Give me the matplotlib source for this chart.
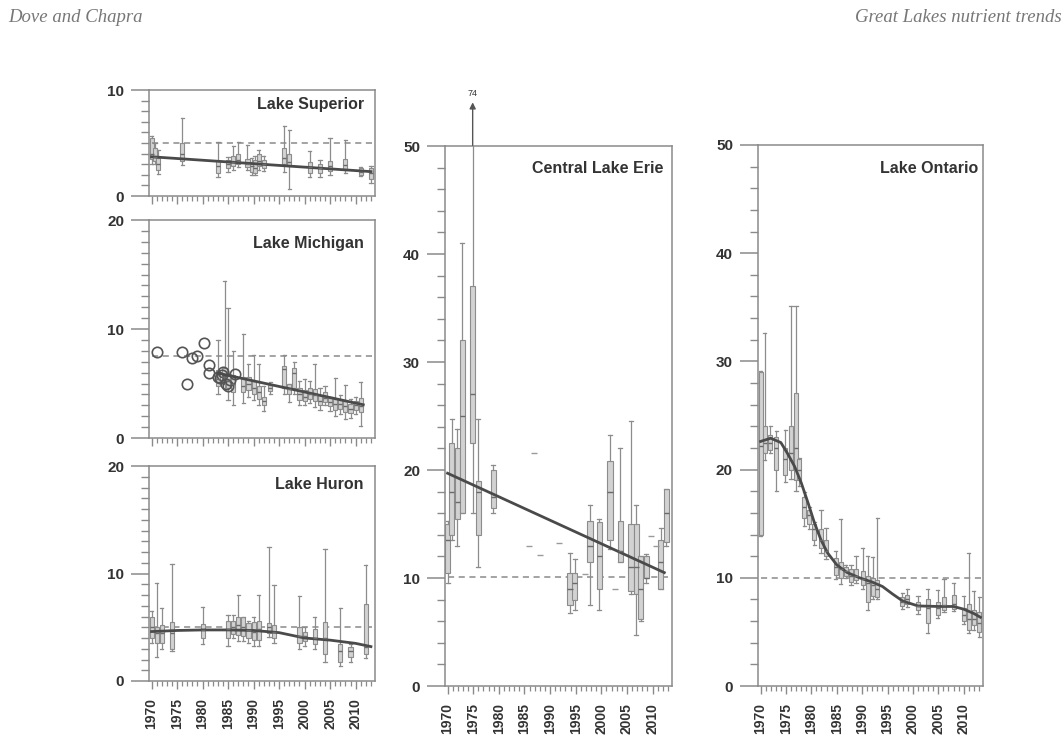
import matplotlib.pyplot as plt
import numpy as np
from matplotlib.ticker import MultipleLocator, NullFormatter

plt.rcParams['font.family'] = ['Liberation Sans', 'DejaVu Sans']

# Lake Superior
sup_year = [1970.0, 1970.7, 1971.3, 1976, 1983, 1985, 1986, 1987, 1988.8, 1989.6, 1990.3,
            1991, 1992, 1996, 1997, 2001, 2003, 2005, 2008, 2011, 2013]
sup_lo = [3.0, 3.0, 2.1, 2.9, 1.8, 2.3, 2.5, 2.7, 2.5, 2.0, 2.0, 2.5, 2.4, 2.3, 0.7, 1.8, 1.8, 2.0, 2.2, 1.9, 1.2]
sup_q1 = [3.5, 3.3, 2.5, 3.3, 2.2, 2.6, 2.8, 3.0, 2.7, 2.3, 2.2, 2.8, 2.6, 3.0, 2.8, 2.2, 2.2, 2.4, 2.5, 2.0, 1.6]
sup_med = [4.0, 3.7, 3.0, 4.0, 2.8, 3.0, 3.2, 3.4, 3.0, 2.8, 2.6, 3.3, 3.0, 3.6, 3.2, 2.7, 2.6, 2.8, 2.9, 2.3, 2.2]
sup_q3 = [5.5, 4.5, 3.6, 5.0, 3.3, 3.4, 3.8, 4.0, 3.5, 3.2, 3.4, 4.0, 3.4, 4.5, 4.0, 3.2, 3.0, 3.3, 3.5, 2.6, 2.6]
sup_hi = [5.7, 5.0, 4.3, 7.4, 5.1, 3.7, 4.7, 5.1, 4.8, 3.6, 3.8, 4.3, 3.8, 6.6, 6.2, 4.2, 3.4, 5.5, 5.3, 2.7, 2.8]
sup_trend_year = [1970, 2013]
sup_trend = [3.7, 2.3]
sup_target = 5.0

# Lake Michigan
mich_year = [1983, 1984.3, 1985, 1986, 1988, 1989, 1990, 1991, 1992, 1993.3, 1996, 1997, 1998,
             1999, 2000, 2001, 2002, 2003, 2004, 2005, 2006, 2007, 2008, 2009, 2010, 2011]
mich_lo = [4.0, 4.5, 3.5, 3.0, 3.2, 3.8, 3.5, 3.0, 2.5, 4.0, 4.0, 3.3, 4.0, 3.0, 3.0, 3.2, 2.8,
           2.6, 3.0, 2.5, 2.0, 2.2, 1.7, 1.8, 2.2, 1.1]
mich_q1 = [4.8, 5.0, 4.6, 4.2, 4.2, 4.4, 4.0, 3.6, 3.0, 4.3, 4.6, 4.0, 4.6, 3.5, 3.4, 3.6, 3.4,
           3.0, 3.3, 2.9, 2.6, 2.7, 2.4, 2.3, 2.6, 2.4]
mich_med = [5.4, 5.6, 5.2, 5.0, 4.8, 5.0, 4.6, 4.2, 3.4, 4.6, 6.3, 4.5, 6.0, 4.0, 3.8, 4.0, 3.9,
            3.4, 3.7, 3.3, 3.1, 3.1, 2.9, 2.7, 3.0, 2.9]
mich_q3 = [6.2, 6.4, 6.0, 5.8, 5.6, 5.6, 5.2, 4.8, 3.8, 4.9, 6.6, 5.0, 6.4, 4.6, 4.4, 4.6, 4.5,
           3.9, 4.2, 3.7, 3.6, 3.5, 3.4, 3.1, 3.4, 3.7]
mich_hi = [9.0, 14.4, 11.9, 8.0, 9.5, 6.8, 7.6, 6.8, 4.8, 5.1, 7.6, 5.0, 7.0, 5.2, 5.4, 5.2, 6.8,
           4.6, 4.8, 3.8, 5.5, 3.9, 4.9, 3.6, 3.8, 5.1]
mich_old_year = [1971, 1976, 1977, 1978, 1979, 1980.2, 1981.2, 1981.2, 1983, 1983.5, 1984,
                 1984.5, 1985, 1985.4, 1986.3, 1983.8]
mich_old_val = [7.9, 7.85, 5.0, 7.3, 7.5, 8.7, 6.7, 6.0, 5.6, 5.5, 6.1, 5.0, 4.8, 5.3, 5.9, 5.8]
mich_trend_year = [1983, 2011.5]
mich_trend = [5.95, 3.05]
mich_target = 7.5

# Lake Huron
huron_year = [1970, 1971, 1972, 1974, 1980, 1985, 1986, 1987, 1988, 1989, 1990, 1991, 1993,
              1994, 1999, 2000, 2002, 2004, 2007, 2009, 2012]
huron_lo = [3.5, 2.2, 3.0, 2.8, 3.4, 3.3, 4.0, 3.7, 3.7, 3.5, 3.3, 3.3, 4.1, 3.5, 3.0, 3.3, 3.0, 1.8, 1.4, 1.8, 2.1]
huron_q1 = [4.0, 3.5, 3.5, 3.0, 4.0, 4.0, 4.4, 4.3, 4.2, 4.0, 3.8, 3.8, 4.5, 4.0, 3.5, 3.7, 3.4, 2.5, 1.8, 2.2, 2.5]
huron_med = [5.0, 4.5, 4.5, 4.5, 4.7, 4.8, 5.0, 5.2, 5.0, 4.7, 4.6, 4.8, 5.0, 4.6, 4.2, 4.2, 4.0, 4.0, 2.8, 2.8, 3.2]
huron_q3 = [6.0, 5.0, 5.2, 5.5, 5.3, 5.6, 5.6, 6.0, 6.0, 5.4, 5.5, 5.6, 5.4, 5.2, 5.0, 4.6, 4.8, 5.5, 3.4, 3.2, 7.2]
huron_hi = [6.5, 9.1, 6.8, 10.9, 6.9, 6.1, 6.1, 8.0, 6.0, 5.6, 6.0, 8.0, 12.5, 8.9, 7.9, 5.0, 6.0, 12.3, 6.8, 3.4, 10.8]
huron_trend_year = [1970, 1975, 1980, 1985, 1990, 1995, 2000, 2005, 2010, 2013]
huron_trend = [4.6, 4.7, 4.75, 4.75, 4.7, 4.5, 4.0, 3.8, 3.5, 3.2]
huron_target = 5.0

# Central Lake Erie
erie_year = [1970, 1970.8, 1971.9, 1972.9, 1974.9, 1976, 1978.9, 1993.9, 1994.8, 1997.8, 1999.6,
             2001.7, 2003.7, 2005.8, 2006.8, 2007.7, 2008.8, 2011.6, 2012.7]
erie_lo = [9.5, 13.5, 13.0, 16.0, 16.0, 11.0, 16.0, 6.8, 7.0, 7.5, 7.0, 12.7, 11.5, 8.5, 4.7, 6.0, 9.5, 9.0, 13.0]
erie_q1 = [10.5, 14.0, 15.5, 16.0, 22.5, 14.0, 16.5, 7.5, 8.0, 11.5, 9.0, 13.5, 11.5, 8.8, 8.5, 6.2, 10.0, 9.0, 13.3]
erie_med = [13.5, 18.0, 17.0, 25.0, 27.0, 18.0, 17.5, 9.0, 9.5, 13.0, 12.0, 18.0, 12.5, 11.0, 11.0, 9.0, 10.0, 11.5, 16.0]
erie_q3 = [15.0, 22.5, 22.0, 32.0, 37.0, 19.0, 20.0, 10.5, 10.5, 15.3, 15.2, 20.8, 15.3, 15.0, 15.0, 12.0, 12.0, 13.5, 18.2]
erie_hi = [15.3, 24.7, 23.8, 41.0, 74.0, 24.7, 20.5, 12.3, 11.8, 16.8, 15.5, 23.2, 22.0, 24.5, 16.8, 12.0, 12.2, 14.6, 18.2]
erie_pt_year = [1985.9, 1986.9, 1988, 1991.7, 1996.9, 2002.6, 2009.7, 2010.7]
erie_pt_val = [13.0, 21.6, 12.1, 13.2, 10.4, 9.0, 13.9, 13.0]
erie_trend_year = [1970, 2012.3]
erie_trend = [19.7, 10.5]
erie_target = 10.1

# Lake Ontario
ont_year = [1970, 1970.8, 1971.9, 1973.1, 1974.9, 1976, 1977, 1977.6, 1978.6, 1979.6, 1980.6,
            1981.9, 1982.9, 1984.8, 1985.8, 1986.8, 1987.8, 1988.8, 1990.1, 1991.1, 1992.1, 1993,
            1997.9, 1998.9, 2001, 2002.9, 2004.9, 2006.1, 2008, 2010, 2011, 2012, 2013.1]
ont_lo = [13.9, 20.9, 21.5, 18.0, 18.9, 19.1, 18.0, 18.5, 14.8, 14.5, 13.0, 12.3, 11.7, 9.9, 9.4,
          10.0, 9.3, 9.5, 9.0, 7.0, 8.0, 8.0, 7.1, 7.3, 6.7, 4.9, 6.3, 6.8, 6.9, 5.7, 4.9, 5.2, 4.5]
ont_q1 = [14.0, 21.5, 21.8, 20.0, 19.5, 20.0, 19.0, 19.0, 15.5, 15.0, 13.5, 12.8, 12.0, 10.3, 10.0,
          10.2, 9.6, 9.8, 9.3, 7.8, 8.3, 8.2, 7.4, 7.6, 7.0, 5.8, 6.6, 7.0, 7.1, 6.0, 5.2, 5.6, 5.0]
ont_med = [22.2, 22.5, 22.5, 22.0, 21.0, 21.5, 22.0, 20.0, 16.5, 15.8, 14.5, 13.5, 12.5, 11.0, 10.8,
           10.6, 10.2, 10.2, 9.9, 9.5, 9.3, 9.0, 7.8, 8.0, 7.4, 7.2, 7.2, 7.5, 7.6, 6.6, 6.2, 6.2, 5.8]
ont_q3 = [29.0, 24.0, 23.2, 23.0, 22.0, 24.0, 27.1, 21.0, 17.5, 16.3, 15.0, 14.5, 13.5, 11.8, 11.5,
          11.0, 10.8, 10.8, 10.6, 10.2, 10.0, 9.8, 8.2, 8.4, 7.8, 8.0, 7.8, 8.2, 8.4, 7.2, 7.6, 7.0, 6.8]
ont_hi = [29.1, 32.6, 24.0, 23.6, 23.7, 35.1, 35.1, 21.1, 17.9, 16.5, 15.2, 16.3, 14.6, 12.5, 15.4,
          11.2, 11.2, 12.0, 12.8, 12.0, 11.9, 15.5, 8.6, 9.0, 8.3, 9.0, 8.9, 9.85, 9.5, 8.3, 12.3, 8.8, 8.2]
ont_curve_year = [1970, 1972, 1974, 1975.3, 1976.7, 1978, 1979.3, 1980.6, 1981.9, 1983.2, 1985,
                  1987, 1989.5, 1992, 1994, 1996, 1998, 2001, 2005, 2008, 2010, 2012, 2013.3]
ont_curve = [22.6, 22.9, 22.5, 21.5, 20.3, 18.8, 17.0, 15.1, 13.5, 12.3, 11.2, 10.5, 10.0, 9.6,
             9.2, 8.5, 7.85, 7.4, 7.35, 7.35, 7.1, 6.7, 6.35]
ont_target = 10.0

year_ticks = np.arange(1970, 2011, 5)

ink = '#333333'
frame = '#8a8a8a'

W, H = 1064, 743
fig = plt.figure(figsize=(W / 100, H / 100), dpi=100)


def px_axes(left, top, right, bottom):
    return fig.add_axes([left / W, 1 - bottom / H, (right - left) / W, (bottom - top) / H])


def draw_boxes(ax, year, lo, q1, med, q3, hi, width=0.8):
    stats = [dict(med=m, q1=a, q3=b, whislo=l, whishi=h, fliers=[])
             for l, a, m, b, h in zip(lo, q1, med, q3, hi)]
    ax.bxp(stats, positions=year, widths=width, capwidths=width * 0.8, patch_artist=True,
           showfliers=False, manage_ticks=False,
           boxprops=dict(facecolor='#d2d2d2', edgecolor='#8c8c8c', linewidth=0.8),
           whiskerprops=dict(color='#8c8c8c', linewidth=0.9),
           capprops=dict(color='#8c8c8c', linewidth=0.9),
           medianprops=dict(color='#6a6a6a', linewidth=1.0))


def style(ax, ymax, ymajor, yminor, name, tx, ty, labels=True):
    ax.set_xlim(1969.5, 2013.8)
    ax.set_ylim(0, ymax)
    ax.yaxis.set_major_locator(MultipleLocator(ymajor))
    ax.yaxis.set_minor_locator(MultipleLocator(yminor))
    ax.set_xticks(year_ticks)
    ax.xaxis.set_minor_locator(MultipleLocator(1))
    for s in ax.spines.values():
        s.set_color(frame)
        s.set_linewidth(1.1)
    ax.tick_params(axis='y', which='major', direction='out', length=13, width=1.1,
                   color=frame, pad=5, labelsize=11, labelcolor=ink)
    ax.tick_params(axis='y', which='minor', direction='out', length=5.5, width=1.0, color=frame)
    ax.tick_params(axis='x', which='major', direction='out', length=5.5, width=1.0,
                   color=frame, pad=7, labelsize=10, labelcolor=ink, labelrotation=90)
    ax.tick_params(axis='x', which='minor', direction='out', length=3.5, width=0.9, color=frame)
    for lab in ax.get_yticklabels():
        lab.set_fontweight('bold')
    if labels:
        ax.set_xticklabels([str(y) for y in year_ticks], fontweight='bold')
    else:
        ax.xaxis.set_major_formatter(NullFormatter())
    ax.text(tx, ty, name, transform=ax.transAxes, ha='right', va='top',
            fontsize=11.5, fontweight='bold', color=ink)


def target_line(ax, value, start=1970):
    ax.plot([start, 2013.8], [value, value], linestyle=(0, (4, 3)), color='#8a8a8a', lw=1.1)


# Lake Superior
ax = px_axes(149, 90, 375, 196)
draw_boxes(ax, sup_year, sup_lo, sup_q1, sup_med, sup_q3, sup_hi)
target_line(ax, sup_target)
ax.plot(sup_trend_year, sup_trend, color='#4a4a4a', lw=2)
style(ax, 10, 10, 1, 'Lake Superior', 0.95, 0.93, labels=False)

# Lake Michigan
ax = px_axes(149, 220, 375, 438)
target_line(ax, mich_target)
draw_boxes(ax, mich_year, mich_lo, mich_q1, mich_med, mich_q3, mich_hi)
ax.plot(mich_old_year, mich_old_val, linestyle='none', marker='o', ms=7.5,
        mfc='none', mec='#555555', mew=1.2)
ax.plot(mich_trend_year, mich_trend, color='#4a4a4a', lw=2)
style(ax, 20, 10, 1, 'Lake Michigan', 0.95, 0.925, labels=False)

# Lake Huron
ax = px_axes(149, 466, 375, 681)
target_line(ax, huron_target)
draw_boxes(ax, huron_year, huron_lo, huron_q1, huron_med, huron_q3, huron_hi)
ax.plot(huron_trend_year, huron_trend, color='#4a4a4a', lw=2)
style(ax, 20, 10, 1, 'Lake Huron', 0.95, 0.95)

# Central Lake Erie
ax = px_axes(445, 146, 672, 686)
target_line(ax, erie_target)
draw_boxes(ax, erie_year, erie_lo, erie_q1, erie_med, erie_q3, erie_hi, width=1.0)
ax.plot(erie_pt_year, erie_pt_val, linestyle='none', marker='_', ms=4, mew=1, color='#9a9a9a')
ax.plot(erie_trend_year, erie_trend, color='#4a4a4a', lw=2)
big = erie_hi.index(max(erie_hi))
ax.annotate('', xy=(erie_year[big], 54.3), xytext=(erie_year[big], 49.8),
            arrowprops=dict(arrowstyle='-|>', color='#555555', lw=1, mutation_scale=9),
            annotation_clip=False)
ax.text(erie_year[big], 54.4, str(int(erie_hi[big])), ha='center', va='bottom',
        fontsize=6.5, color=ink, clip_on=False)
style(ax, 50, 10, 2, 'Central Lake Erie', 0.96, 0.972)

# Lake Ontario
ax = px_axes(758, 145, 983, 686)
target_line(ax, ont_target)
draw_boxes(ax, ont_year, ont_lo, ont_q1, ont_med, ont_q3, ont_hi)
ax.plot(ont_curve_year, ont_curve, color='#4a4a4a', lw=2)
style(ax, 50, 10, 2, 'Lake Ontario', 0.98, 0.97)

# running page header
fig.text(8 / W, 1 - 22 / H, 'Dove and Chapra', family='Liberation Serif', style='italic',
         fontsize=13.5, color='#777777', va='baseline', ha='left')
fig.text(1062 / W, 1 - 22 / H, 'Great Lakes nutrient trends', family='Liberation Serif',
         style='italic', fontsize=13.5, color='#777777', va='baseline', ha='right')

fig.savefig('out.png', dpi=100)
